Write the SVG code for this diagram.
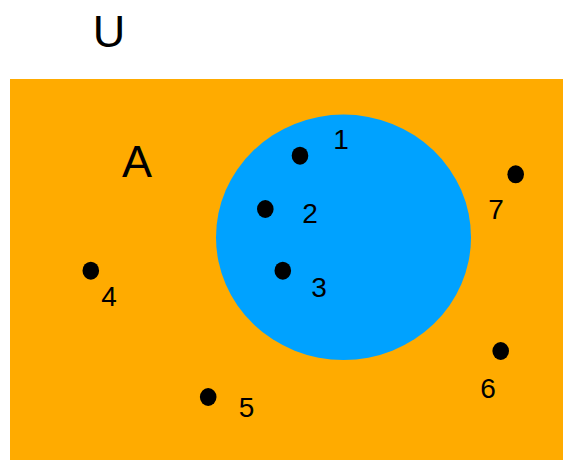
<svg xmlns="http://www.w3.org/2000/svg" width="563" height="460" viewBox="0 0 563 460">
<style>
.lbl{font-family:"Liberation Sans",Arial,sans-serif;font-size:28px;fill:#000;text-anchor:middle}
.big{font-family:"Liberation Sans",Arial,sans-serif;font-size:45px;fill:#000;text-anchor:middle}
.dot{fill:#000}
</style>
<rect width="563" height="460" fill="#fff"/>
<g id="universe">
<rect x="10" y="79" width="553" height="381" fill="#FFAB00"/>
<text class="big" x="109" y="47">U</text>
</g>
<g id="setA">
<ellipse cx="343.5" cy="237.3" rx="127.5" ry="122.7" fill="#00A2FF"/>
<text class="big" x="137" y="177">A</text>
</g>
<g id="e1"><ellipse class="dot" cx="300" cy="155.7" rx="8.3" ry="9"/><text class="lbl" x="341" y="149">1</text></g>
<g id="e2"><ellipse class="dot" cx="265.3" cy="209" rx="8.3" ry="9"/><text class="lbl" x="310" y="223">2</text></g>
<g id="e3"><ellipse class="dot" cx="282.8" cy="270.7" rx="8.3" ry="9"/><text class="lbl" x="319" y="297">3</text></g>
<g id="e4"><ellipse class="dot" cx="90.8" cy="270.7" rx="8.3" ry="9"/><text class="lbl" x="109" y="306">4</text></g>
<g id="e5"><ellipse class="dot" cx="208.2" cy="397" rx="8.3" ry="9"/><text class="lbl" x="246.6" y="417">5</text></g>
<g id="e6"><ellipse class="dot" cx="500.7" cy="351" rx="8.3" ry="9"/><text class="lbl" x="488" y="398">6</text></g>
<g id="e7"><ellipse class="dot" cx="515.7" cy="174.3" rx="8.3" ry="9"/><text class="lbl" x="496" y="219">7</text></g>
<g id="connectors"/>
</svg>
